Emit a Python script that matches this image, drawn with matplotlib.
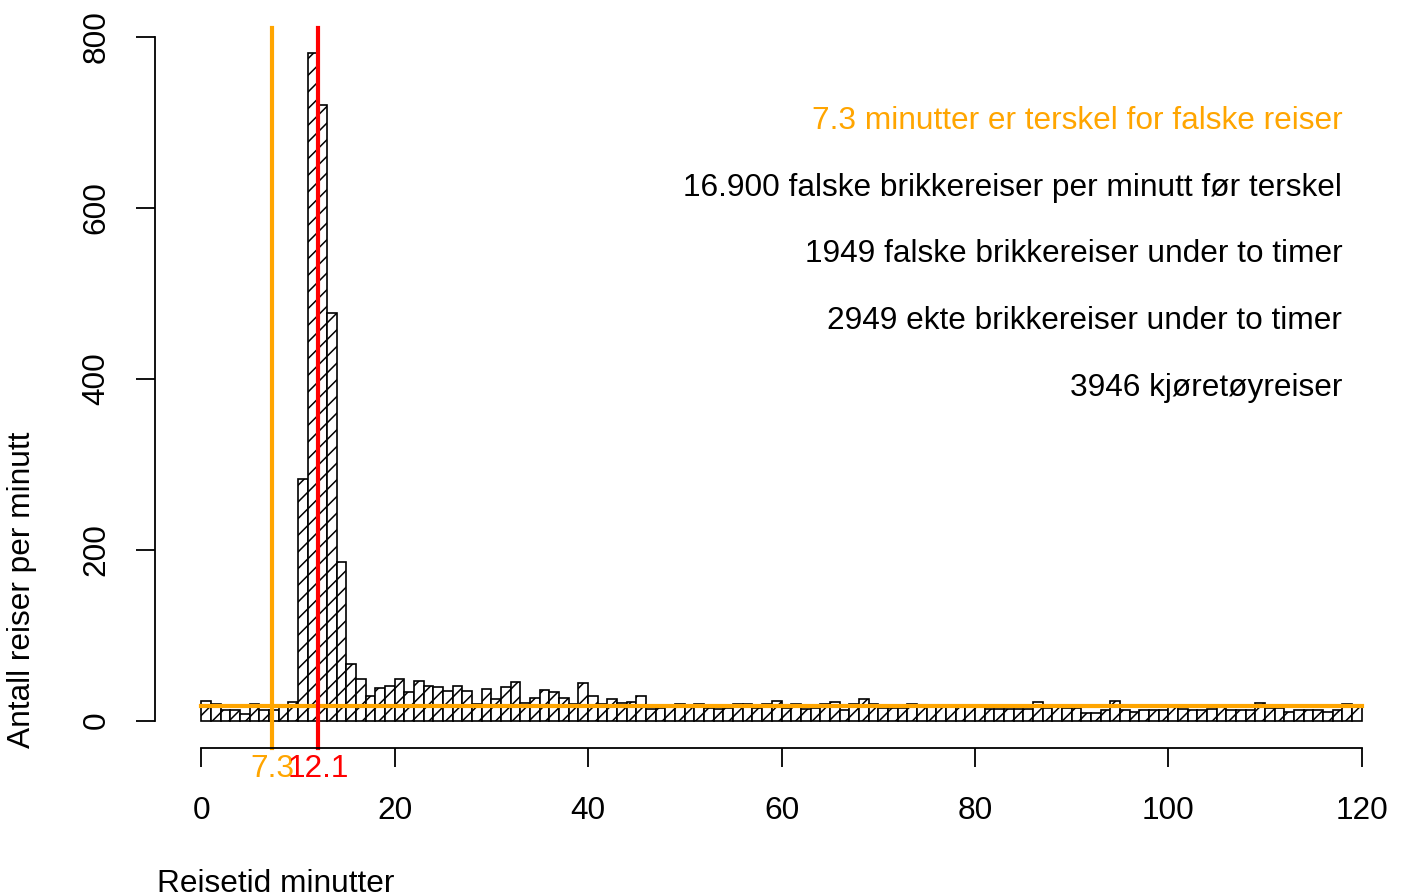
import numpy as np
import matplotlib
matplotlib.use('agg')
import matplotlib.pyplot as plt

plt.rcParams['font.family'] = ['Liberation Sans', 'DejaVu Sans']
plt.rcParams['hatch.linewidth'] = 1.1

# reiser per minutt, ett tall per minutt 0-119
counts = [23, 20, 13, 12, 8, 19, 12, 12, 18, 22,
          283, 781, 720, 477, 186, 66, 49, 29, 38, 41,
          49, 34, 46, 41, 39, 35, 40, 35, 19, 37,
          25, 39, 45, 21, 27, 36, 33, 26, 20, 44,
          29, 20, 25, 21, 22, 29, 14, 15, 18, 20,
          18, 20, 15, 14, 15, 20, 20, 15, 20, 23,
          15, 20, 14, 15, 20, 22, 12, 20, 25, 20,
          15, 15, 15, 20, 16, 17, 17, 17, 16, 17,
          17, 14, 14, 14, 14, 14, 22, 15, 18, 15,
          15, 9, 9, 13, 23, 13, 10, 13, 13, 13,
          17, 14, 12, 12, 14, 16, 13, 13, 13, 21,
          15, 15, 10, 12, 12, 13, 10, 13, 20, 17]
bin_left = np.arange(0, 120)
threshold = 7.3
peak = 12.1
false_per_min = 16.9
notes = ['7.3 minutter er terskel for falske reiser',
         '16.900 falske brikkereiser per minutt før terskel',
         '1949 falske brikkereiser under to timer',
         '2949 ekte brikkereiser under to timer',
         '3946 kjøretøyreiser']
note_colors = ['orange', 'black', 'black', 'black', 'black']
note_y = [701.5, 623.5, 545.5, 467.5, 389.5]

fig = plt.figure(figsize=(14.05, 8.96), dpi=100)
W, H = 1405, 896
ax = fig.add_axes([155 / W, 1 - 748 / H, (1408 - 155) / W, (748 - 9.6) / H])
ax.set_xlim(-4.8, 124.8)
ax.set_ylim(-32, 832)

ax.bar(bin_left, counts, width=1, align='edge', facecolor='white',
       edgecolor='black', linewidth=1.2, hatch='//')

ax.plot([0, 120], [false_per_min, false_per_min], color='orange', lw=3)
ax.plot([threshold, threshold], [-32, 810], color='orange', lw=3, clip_on=False)
ax.plot([peak, peak], [-32, 810], color='red', lw=3, clip_on=False)

fs = 22.8
ax.text(threshold, -57, '7.3', color='orange', ha='center', va='center',
        fontsize=fs, clip_on=False)
ax.text(peak, -57, '12.1', color='red', ha='center', va='center',
        fontsize=fs, clip_on=False)

for s, c, y in zip(notes, note_colors, note_y):
    ax.text(118.0, y, s, color=c, ha='right', va='center', fontsize=fs)

for side in ['top', 'right']:
    ax.spines[side].set_visible(False)
ax.spines['bottom'].set_bounds(0, 120)
ax.spines['left'].set_bounds(0, 800)
ax.spines['bottom'].set_linewidth(1.3)
ax.spines['left'].set_linewidth(1.3)

ax.set_xticks(range(0, 121, 20))
ax.set_yticks(range(0, 801, 200))
ax.tick_params(axis='both', length=13.5, width=1.3, labelsize=fs)
ax.tick_params(axis='x', pad=21)
ax.tick_params(axis='y', pad=18)
for lab in ax.get_yticklabels():
    lab.set_rotation(90)
    lab.set_va('center')

fig.text(157 / W, 1 - 884 / H, 'Reisetid minutter', ha='left', va='center',
         fontsize=fs)
fig.text(22 / W, 1 - 748 / H, 'Antall reiser per minutt', ha='center',
         va='bottom', rotation=90, fontsize=fs)

fig.savefig('out.png', dpi=100)
